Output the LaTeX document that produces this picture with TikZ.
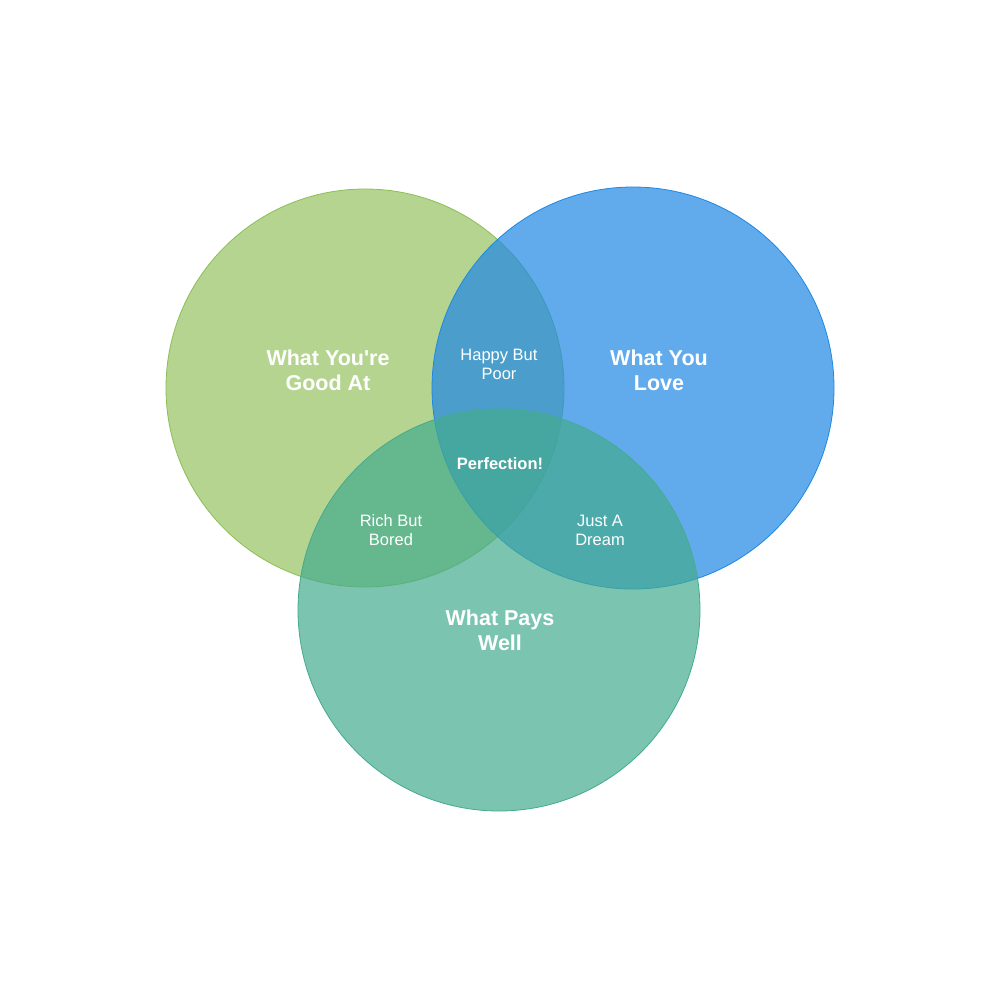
\documentclass[tikz,border=0pt]{standalone}
\usepackage{fontspec}
\setmainfont{Liberation Sans}[Ligatures=TeXOff]
\definecolor{cgreen}{HTML}{97C362}
\definecolor{cgreenb}{HTML}{8BBF55}
\definecolor{cblue}{HTML}{1E88E5}
\definecolor{cteal}{HTML}{44AB8E}
\begin{document}
\begin{tikzpicture}[x=1pt,y=-1pt,
  setc/.style={fill opacity=0.7,line width=0.8pt},
  title/.style={text=white,font=\fontsize{21.5}{25}\selectfont\bfseries,align=center},
  lab/.style={text=white,font=\fontsize{16.5}{19}\selectfont,align=center},
  labb/.style={text=white,font=\fontsize{16.5}{19}\selectfont\bfseries,align=center}]
\useasboundingbox (0,0) rectangle (1000,1000);
\fill[white] (0,0) rectangle (1000,1000);
\draw[setc,fill=cgreen,draw=cgreenb] (365,388) circle[radius=199] coordinate (g);
\draw[setc,fill=cblue,draw=cblue] (633,388) circle[radius=201] coordinate (b);
\draw[setc,fill=cteal,draw=cteal] (499,610) circle[radius=201] coordinate (t);
\node[title] (tg) at (328,370) {What You're\\Good At};
\node[title] (tb) at (659,370) {What You\\Love};
\node[title] (tt) at (500,630) {What Pays\\Well};
\node[lab] (hp) at (499,364) {Happy But\\Poor};
\node[labb] (pf) at (500,464) {Perfection!};
\node[lab] (rb) at (391,530) {Rich But\\Bored};
\node[lab] (jd) at (600,530) {Just A\\Dream};
\end{tikzpicture}
\end{document}
